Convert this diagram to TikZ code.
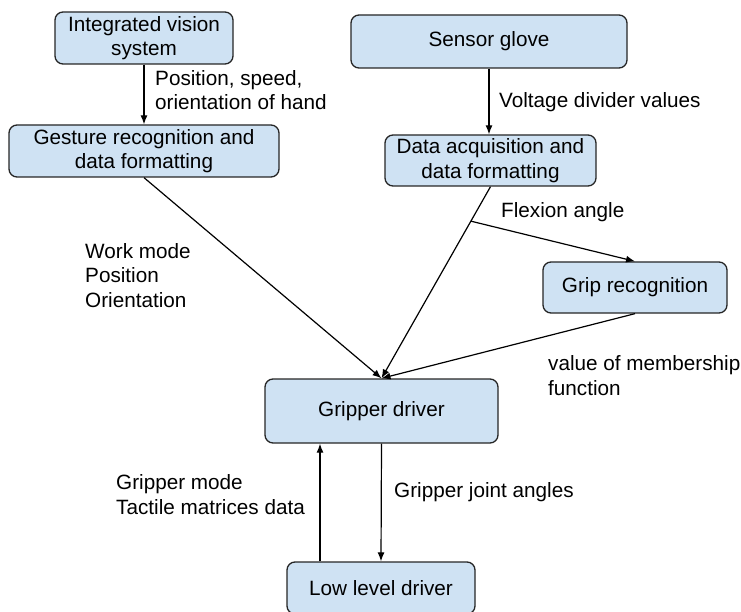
\documentclass[tikz,border=0pt]{standalone}
\usepackage{fontspec}
\setmainfont{Liberation Sans}
\usetikzlibrary{arrows.meta, positioning}
\definecolor{boxblue}{HTML}{CFE2F3}
\tikzset{
x=1pt, y=-1pt, % picture units, y runs downwards
>={Latex[length=9pt,width=7pt]}, % arrow heads
every node/.style={font=\fontsize{20.7}{24.5}\selectfont},
block/.style={draw=black!85, fill=boxblue, line width=1.3pt, rounded corners=8pt,
  align=center, inner sep=0pt}, % the blue boxes
lbl/.style={anchor=base west, align=left, inner sep=0pt}, % texts beside the arrows, placed by their last baseline
flow/.style={->, line width=1.2pt},
}
\begin{document}
\begin{tikzpicture}
\useasboundingbox (0,0) rectangle (741,612);
% boxes
\node[block, minimum width=178pt, minimum height=52pt] (vision) at (144,38) {Integrated vision\\system};
\node[block, minimum width=270pt, minimum height=52pt] (gesture) at (144,151) {Gesture recognition and\\data formatting};
\node[block, minimum width=276pt, minimum height=53pt] (sensor) at (489,41.5) {Sensor glove};
\node[block, minimum width=211pt, minimum height=51pt] (dataacq) at (490.5,160.5) {Data acquisition and\\data formatting};
\node[block, minimum width=184pt, minimum height=51pt] (grip) at (635,287.5) {Grip recognition};
\node[block, minimum width=233pt, minimum height=64pt] (gripper) at (381.5,411) {Gripper driver};
\node[block, minimum width=188pt, minimum height=52pt] (lowlevel) at (381,588) {Low level driver};
% arrows
\draw[flow] (vision.south) -- (gesture.north);
\draw[flow] (sensor.south) -- (sensor.south |- dataacq.north);
\draw[flow] (gesture.south) -- (gripper.north);
\draw[flow] (dataacq.south) -- coordinate[pos=0.18] (split) (gripper.north);
\draw[flow] (split) -- (grip.north);
\draw[flow] (grip.south) -- (gripper.north);
\draw[flow] (gripper.south) -- (lowlevel.north);
\draw[flow] ([xshift=-61pt]lowlevel.north) -- ([xshift=-61pt]lowlevel.north |- gripper.south);
% labels
\node[lbl] (possp) at (155,110) {Position, speed,\\orientation of hand};
\node[lbl] (volt) at (499,108) {Voltage divider values};
\node[lbl] (flex) at (501,218) {Flexion angle};
\node[lbl] (workm) at (85,307) {Work mode\\Position\\Orientation};
\node[lbl] (member) at (548,395) {value of membership\\function};
\node[lbl] (gripm) at (116,514) {Gripper mode\\Tactile matrices data};
\node[lbl] (joint) at (394,497) {Gripper joint angles};
\end{tikzpicture}
\end{document}
